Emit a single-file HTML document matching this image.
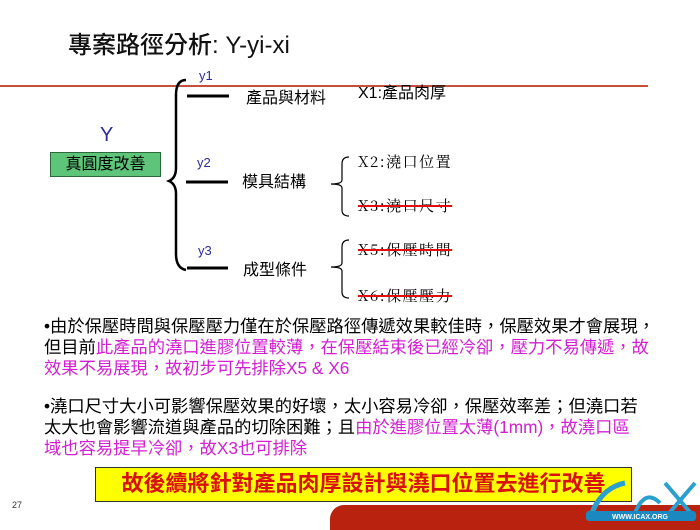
<!DOCTYPE html>
<html><head><meta charset="utf-8"><style>
body{margin:0;width:700px;height:525px;background:#fff;position:relative;overflow:hidden;font-family:"Liberation Sans","Noto Sans CJK TC",sans-serif}
.a{position:absolute;white-space:nowrap}
.s{font-family:"Noto Serif CJK SC","Liberation Serif",serif;letter-spacing:1.5px}
.p{font-size:17.3px;line-height:21px;color:#000}
.m{color:#d21fd2}
.x{text-decoration:line-through;text-decoration-color:#e01010;text-decoration-thickness:2px}
</style></head><body>
<div class="a" style="left:68px;top:25px;font-size:24px;color:#111;font-weight:500">專案路徑分析: Y-yi-xi</div>
<div class="a" style="left:0;top:85px;width:648px;height:2px;background:#c2503a"></div>
<div class="a" style="left:100px;top:124px;font-size:20px;color:#2b2ba0">Y</div>
<div class="a" style="left:50px;top:152px;width:111px;height:25px;background:#5ec47a;border:1px solid #2a6a3a;box-sizing:border-box;font-size:16px;text-align:center;line-height:23px;color:#000">真圓度改善</div>
<svg class="a" style="left:0;top:0" width="700" height="525">
<path d="M186,80 Q176,80 176,95 L176,168 Q176,178 169,181 Q176,184 176,194 L176,254 Q176,268 186,270" fill="none" stroke="#000" stroke-width="2.5"/>
<line x1="187" y1="96" x2="229" y2="96" stroke="#000" stroke-width="3"/>
<line x1="186" y1="182" x2="228" y2="182" stroke="#000" stroke-width="3"/>
<line x1="187" y1="268" x2="228" y2="268" stroke="#000" stroke-width="3"/>
<path d="M349,157 Q342,157 342,164 L342,180 Q342,184 331,184 Q342,184 342,188 L342,210 Q342,216 349,216" fill="none" stroke="#000" stroke-width="1.2"/>
<path d="M349,240 Q342,240 342,247 L342,263 Q342,267 331,267 Q342,267 342,271 L342,292 Q342,298 349,298" fill="none" stroke="#000" stroke-width="1.2"/>
</svg>
<div class="a" style="left:199px;top:68px;font-size:13px;color:#2b2ba0">y1</div>
<div class="a" style="left:197px;top:155px;font-size:13px;color:#2b2ba0">y2</div>
<div class="a" style="left:198px;top:243px;font-size:13px;color:#2b2ba0">y3</div>
<div class="a" style="left:246px;top:84px;font-size:16px">產品與材料</div>
<div class="a" style="left:242px;top:168px;font-size:16px">模具結構</div>
<div class="a" style="left:243px;top:256px;font-size:16px">成型條件</div>
<div class="a" style="left:358px;top:79px;font-size:16px">X1:產品肉厚</div>
<div class="a s" style="left:358px;top:151px;font-size:15px">X2:澆口位置</div>
<div class="a s x" style="left:358px;top:195px;font-size:15px">X3:澆口尺寸</div>
<div class="a s x" style="left:358px;top:239px;font-size:15px">X5:保壓時間</div>
<div class="a s x" style="left:358px;top:285px;font-size:15px">X6:保壓壓力</div>
<div class="a p" style="left:44px;top:316px">•由於保壓時間與保壓壓力僅在於保壓路徑傳遞效果較佳時，保壓效果才會展現，<br>但目前<span class="m">此產品的澆口進膠位置較薄，在保壓結束後已經冷卻，壓力不易傳遞，故</span><br><span class="m">效果不易展現，故初步可先排除X5 &amp; X6</span></div>
<div class="a p" style="left:44px;top:396px">•澆口尺寸大小可影響保壓效果的好壞，太小容易冷卻，保壓效率差；但澆口若<br>太大也會影響流道與產品的切除困難；且<span class="m">由於進膠位置太薄(1mm)，故澆口區</span><br><span class="m">域也容易提早冷卻，故X3也可排除</span></div>
<div class="a" style="left:330px;top:505px;width:380px;height:25px;background:#b8220e;border-radius:14px 0 0 0"></div>
<div class="a" style="left:95px;top:467px;width:537px;height:35px;background:#ffff00;border:1.5px solid #333;box-sizing:border-box;text-align:center;font-size:22px;font-weight:bold;color:#d81010;line-height:32px">故後續將針對產品肉厚設計與澆口位置去進行改善</div>
<div class="a" style="left:12px;top:500px;font-size:9px;color:#333">27</div>
<svg class="a" style="left:580px;top:478px" width="120" height="47">
<path d="M10,40 Q20,10 45,5" fill="none" stroke="#2aa0d0" stroke-width="5"/>
<path d="M55,35 Q65,10 80,25" fill="none" stroke="#2aa0d0" stroke-width="4"/>
<path d="M85,5 L115,40 M115,5 L85,40" fill="none" stroke="#2aa0d0" stroke-width="4"/>
<rect x="6" y="33" width="110" height="10" rx="3" fill="#1b88c0"/>
<text x="60" y="41" font-size="7" font-weight="bold" fill="#fff" text-anchor="middle" font-family="Liberation Sans">WWW.ICAX.ORG</text>
</svg>
</body></html>
